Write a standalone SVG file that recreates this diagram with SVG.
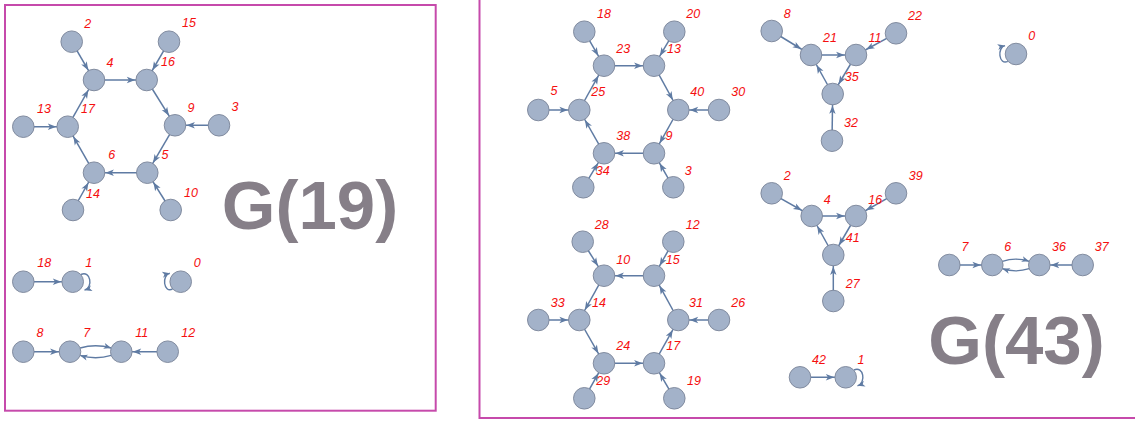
<svg xmlns="http://www.w3.org/2000/svg" width="1135" height="421" viewBox="0 0 1135 421">
<style>
.nd{fill:#a3b2c9;stroke:#7a8598;stroke-width:0.9}
.lb{font-family:"Liberation Sans",Arial,sans-serif;font-style:italic;font-size:12.5px;fill:#f50f0f;text-anchor:middle}
.e{stroke:#5f7ba3;stroke-width:1.5;fill:none}
.ea{stroke:#5f7ba3;stroke-width:1.5;fill:none;marker-end:url(#a)}
.ec{stroke:#5f7ba3;stroke-width:1.4;fill:none;marker-end:url(#a0)}
.ttl{font-family:"Liberation Sans",Arial,sans-serif;font-weight:bold;font-size:69px;fill:#867f88;text-anchor:middle}
.frame{fill:none;stroke:#c64aab;stroke-width:2}
</style>
<defs>
<marker id="a" markerUnits="userSpaceOnUse" orient="auto" viewBox="-10 -5 25 10" markerWidth="25" markerHeight="10" refX="11.4" refY="0"><path d="M0,0 L-8.5,-3.2 L-6.3,0 L-8.5,3.2 Z" fill="#5f7ba3"/></marker>
<marker id="a0" markerUnits="userSpaceOnUse" orient="auto" viewBox="-10 -5 12 10" markerWidth="12" markerHeight="10" refX="0" refY="0"><path d="M0,0 L-7.5,-3 L-5.5,0 L-7.5,3 Z" fill="#5f7ba3"/></marker>
</defs>
<rect width="1135" height="421" fill="#ffffff"/>
<rect class="frame" x="5" y="5" width="430.7" height="405.7"/>
<rect class="frame" x="479.5" y="-10" width="680" height="428"/>
<g id="edges">
<!-- left panel -->
<line class="ea" x1="94" y1="80" x2="146.7" y2="80"/>
<line class="ea" x1="146.7" y1="80" x2="175" y2="125.3"/>
<line class="ea" x1="175" y1="125.3" x2="147.3" y2="172.7"/>
<line class="ea" x1="147.3" y1="172.7" x2="94" y2="172.7"/>
<line class="ea" x1="94" y1="172.7" x2="67.7" y2="126.7"/>
<line class="ea" x1="67.7" y1="126.7" x2="94" y2="80"/>
<line class="ea" x1="71.7" y1="41.7" x2="94" y2="80"/>
<line class="ea" x1="169" y1="41.7" x2="146.7" y2="80"/>
<line class="ea" x1="219" y1="125.3" x2="175" y2="125.3"/>
<line class="ea" x1="170.7" y1="210" x2="147.3" y2="172.7"/>
<line class="ea" x1="73" y1="210" x2="94" y2="172.7"/>
<line class="ea" x1="23.3" y1="126.7" x2="67.7" y2="126.7"/>
<line class="ea" x1="23.3" y1="281.7" x2="72.7" y2="281.7"/>
<path class="ec" d="M81,274.5 C90.5,270 93.5,287.5 84.5,290.2"/>
<path class="ec" d="M172.5,289 C163.5,293.5 161.5,275 169.8,273.3"/>
<line class="ea" x1="23.3" y1="351.7" x2="70" y2="351.7"/>
<path class="ec" d="M80.1,348 Q95.6,343.5 111.2,348"/>
<path class="ec" d="M111.2,355.4 Q95.6,360 80.1,355.4"/>
<line class="ea" x1="167.7" y1="351.7" x2="121.3" y2="351.7"/>
<!-- right panel: upper hexagon -->
<line class="ea" x1="604" y1="65.7" x2="654" y2="65.7"/>
<line class="ea" x1="654" y1="65.7" x2="678.3" y2="110"/>
<line class="ea" x1="678.3" y1="110" x2="654" y2="153.3"/>
<line class="ea" x1="654" y1="153.3" x2="604" y2="153.3"/>
<line class="ea" x1="604" y1="153.3" x2="579.3" y2="110"/>
<line class="ea" x1="579.3" y1="110" x2="604" y2="65.7"/>
<line class="ea" x1="584.3" y1="31.7" x2="604" y2="65.7"/>
<line class="ea" x1="674.3" y1="31.7" x2="654" y2="65.7"/>
<line class="ea" x1="719" y1="110" x2="678.3" y2="110"/>
<line class="ea" x1="673.3" y1="187.3" x2="654" y2="153.3"/>
<line class="ea" x1="583.3" y1="187.3" x2="604" y2="153.3"/>
<line class="ea" x1="538.3" y1="110" x2="579.3" y2="110"/>
<!-- lower hexagon -->
<line class="ea" x1="654" y1="275.7" x2="604" y2="275.7"/>
<line class="ea" x1="604" y1="275.7" x2="579.3" y2="320"/>
<line class="ea" x1="579.3" y1="320" x2="604" y2="363.3"/>
<line class="ea" x1="604" y1="363.3" x2="654" y2="363.3"/>
<line class="ea" x1="654" y1="363.3" x2="678.3" y2="320"/>
<line class="ea" x1="678.3" y1="320" x2="654" y2="275.7"/>
<line class="ea" x1="582.7" y1="241.7" x2="604" y2="275.7"/>
<line class="ea" x1="673.3" y1="241.7" x2="654" y2="275.7"/>
<line class="ea" x1="538.3" y1="320" x2="579.3" y2="320"/>
<line class="ea" x1="719" y1="320" x2="678.3" y2="320"/>
<line class="ea" x1="584.3" y1="398.3" x2="604" y2="363.3"/>
<line class="ea" x1="674.3" y1="398.3" x2="654" y2="363.3"/>
<!-- triangles -->
<line class="ea" x1="811" y1="55" x2="856" y2="55"/>
<line class="ea" x1="856" y1="55" x2="832.7" y2="94"/>
<line class="ea" x1="832.7" y1="94" x2="811" y2="55"/>
<line class="ea" x1="771.7" y1="31" x2="811" y2="55"/>
<line class="ea" x1="896" y1="33.3" x2="856" y2="55"/>
<line class="ea" x1="832" y1="140.7" x2="832.7" y2="94"/>
<line class="ea" x1="811.7" y1="216" x2="856" y2="216"/>
<line class="ea" x1="856" y1="216" x2="833.3" y2="255"/>
<line class="ea" x1="833.3" y1="255" x2="811.7" y2="216"/>
<line class="ea" x1="771.7" y1="193.3" x2="811.7" y2="216"/>
<line class="ea" x1="896" y1="193.3" x2="856" y2="216"/>
<line class="ea" x1="833.3" y1="301" x2="833.3" y2="255"/>
<!-- small components -->
<line class="ea" x1="800" y1="377.3" x2="845.7" y2="377.3"/>
<path class="ec" d="M854,370 C863.5,365.5 866.5,383 857.5,385.8"/>
<path class="ec" d="M1007.8,61.3 C998.8,65.8 996.8,47.3 1005.1,45.6"/>
<line class="ea" x1="949.3" y1="265" x2="992.3" y2="265"/>
<path class="ec" d="M1002.4,261.3 Q1015.8,257 1029.2,261.3"/>
<path class="ec" d="M1029.2,268.7 Q1015.8,273 1002.4,268.7"/>
<line class="ea" x1="1082.7" y1="265" x2="1039.3" y2="265"/>
</g>
<!-- left panel nodes -->
<g id="L2"><circle class="nd" cx="71.7" cy="41.7" r="10.8"/><text class="lb" x="87.7" y="27.5">2</text></g>
<g id="L15"><circle class="nd" cx="169" cy="41.7" r="10.8"/><text class="lb" x="189" y="26.5">15</text></g>
<g id="L4"><circle class="nd" cx="94" cy="80" r="10.8"/><text class="lb" x="110" y="66.5">4</text></g>
<g id="L16"><circle class="nd" cx="146.7" cy="80" r="10.8"/><text class="lb" x="168" y="65.5">16</text></g>
<g id="L13"><circle class="nd" cx="23.3" cy="126.7" r="10.8"/><text class="lb" x="44" y="112.5">13</text></g>
<g id="L17"><circle class="nd" cx="67.7" cy="126.7" r="10.8"/><text class="lb" x="88" y="112.5">17</text></g>
<g id="L9"><circle class="nd" cx="175" cy="125.3" r="10.8"/><text class="lb" x="191" y="111.5">9</text></g>
<g id="L3"><circle class="nd" cx="219" cy="125.3" r="10.8"/><text class="lb" x="235" y="110.5">3</text></g>
<g id="L6"><circle class="nd" cx="94" cy="172.7" r="10.8"/><text class="lb" x="111.7" y="158.5">6</text></g>
<g id="L5"><circle class="nd" cx="147.3" cy="172.7" r="10.8"/><text class="lb" x="165" y="158.5">5</text></g>
<g id="L14"><circle class="nd" cx="73" cy="210" r="10.8"/><text class="lb" x="93" y="197.5">14</text></g>
<g id="L10"><circle class="nd" cx="170.7" cy="210" r="10.8"/><text class="lb" x="191" y="196.5">10</text></g>
<g id="L18"><circle class="nd" cx="23.3" cy="281.7" r="10.8"/><text class="lb" x="44.3" y="266.8">18</text></g>
<g id="L1"><circle class="nd" cx="72.7" cy="281.7" r="10.8"/><text class="lb" x="88.7" y="266.5">1</text></g>
<g id="L0"><circle class="nd" cx="180.7" cy="281.7" r="10.8"/><text class="lb" x="197.3" y="266.5">0</text></g>
<g id="L8"><circle class="nd" cx="23.3" cy="351.7" r="10.8"/><text class="lb" x="40" y="337.2">8</text></g>
<g id="L7"><circle class="nd" cx="70" cy="351.7" r="10.8"/><text class="lb" x="86.7" y="337.2">7</text></g>
<g id="L11"><circle class="nd" cx="121.3" cy="351.7" r="10.8"/><text class="lb" x="141.7" y="337.2">11</text></g>
<g id="L12"><circle class="nd" cx="167.7" cy="351.7" r="10.8"/><text class="lb" x="188.3" y="337.2">12</text></g>
<text id="title19" class="ttl" x="310" y="228.5">G(19)</text>
<!-- right panel nodes -->
<g id="R18"><circle class="nd" cx="584.3" cy="31.7" r="10.8"/><text class="lb" x="604" y="17.8">18</text></g>
<g id="R20"><circle class="nd" cx="674.3" cy="31.7" r="10.8"/><text class="lb" x="693.3" y="17.8">20</text></g>
<g id="R23"><circle class="nd" cx="604" cy="65.7" r="10.8"/><text class="lb" x="623.3" y="53.2">23</text></g>
<g id="R13"><circle class="nd" cx="654" cy="65.7" r="10.8"/><text class="lb" x="674" y="53.2">13</text></g>
<g id="R5"><circle class="nd" cx="538.3" cy="110" r="10.8"/><text class="lb" x="554" y="95.2">5</text></g>
<g id="R25"><circle class="nd" cx="579.3" cy="110" r="10.8"/><text class="lb" x="598.3" y="96.2">25</text></g>
<g id="R40"><circle class="nd" cx="678.3" cy="110" r="10.8"/><text class="lb" x="697.3" y="96.2">40</text></g>
<g id="R30"><circle class="nd" cx="719" cy="110" r="10.8"/><text class="lb" x="738.3" y="96.2">30</text></g>
<g id="R38"><circle class="nd" cx="604" cy="153.3" r="10.8"/><text class="lb" x="623.3" y="139.5">38</text></g>
<g id="R9"><circle class="nd" cx="654" cy="153.3" r="10.8"/><text class="lb" x="669" y="139.5">9</text></g>
<g id="R34"><circle class="nd" cx="583.3" cy="187.3" r="10.8"/><text class="lb" x="602.7" y="174.5">34</text></g>
<g id="R3"><circle class="nd" cx="673.3" cy="187.3" r="10.8"/><text class="lb" x="688.3" y="174.5">3</text></g>
<g id="R28"><circle class="nd" cx="582.7" cy="241.7" r="10.8"/><text class="lb" x="601.7" y="228.5">28</text></g>
<g id="R12"><circle class="nd" cx="673.3" cy="241.7" r="10.8"/><text class="lb" x="692.7" y="228.5">12</text></g>
<g id="R10"><circle class="nd" cx="604" cy="275.7" r="10.8"/><text class="lb" x="623.3" y="263.5">10</text></g>
<g id="R15"><circle class="nd" cx="654" cy="275.7" r="10.8"/><text class="lb" x="672.7" y="263.5">15</text></g>
<g id="R33"><circle class="nd" cx="538.3" cy="320" r="10.8"/><text class="lb" x="557.7" y="306.8">33</text></g>
<g id="R14"><circle class="nd" cx="579.3" cy="320" r="10.8"/><text class="lb" x="599" y="306.8">14</text></g>
<g id="R31"><circle class="nd" cx="678.3" cy="320" r="10.8"/><text class="lb" x="696" y="306.8">31</text></g>
<g id="R26"><circle class="nd" cx="719" cy="320" r="10.8"/><text class="lb" x="738.3" y="306.8">26</text></g>
<g id="R24"><circle class="nd" cx="604" cy="363.3" r="10.8"/><text class="lb" x="623.3" y="350.2">24</text></g>
<g id="R17"><circle class="nd" cx="654" cy="363.3" r="10.8"/><text class="lb" x="673.3" y="350.2">17</text></g>
<g id="R29"><circle class="nd" cx="584.3" cy="398.3" r="10.8"/><text class="lb" x="603.3" y="384.5">29</text></g>
<g id="R19"><circle class="nd" cx="674.3" cy="398.3" r="10.8"/><text class="lb" x="694" y="384.5">19</text></g>
<g id="R8"><circle class="nd" cx="771.7" cy="31" r="10.8"/><text class="lb" x="787.3" y="17.8">8</text></g>
<g id="R21"><circle class="nd" cx="811" cy="55" r="10.8"/><text class="lb" x="830" y="41.8">21</text></g>
<g id="R11"><circle class="nd" cx="856" cy="55" r="10.8"/><text class="lb" x="875" y="41.8">11</text></g>
<g id="R22"><circle class="nd" cx="896" cy="33.3" r="10.8"/><text class="lb" x="915" y="20.2">22</text></g>
<g id="R35"><circle class="nd" cx="832.7" cy="94" r="10.8"/><text class="lb" x="851.7" y="80.5">35</text></g>
<g id="R32"><circle class="nd" cx="832" cy="140.7" r="10.8"/><text class="lb" x="851" y="127.2">32</text></g>
<g id="R2"><circle class="nd" cx="771.7" cy="193.3" r="10.8"/><text class="lb" x="787.3" y="180.2">2</text></g>
<g id="R4"><circle class="nd" cx="811.7" cy="216" r="10.8"/><text class="lb" x="827.3" y="203.5">4</text></g>
<g id="R16"><circle class="nd" cx="856" cy="216" r="10.8"/><text class="lb" x="875.3" y="203.5">16</text></g>
<g id="R39"><circle class="nd" cx="896" cy="193.3" r="10.8"/><text class="lb" x="915.7" y="180.2">39</text></g>
<g id="R41"><circle class="nd" cx="833.3" cy="255" r="10.8"/><text class="lb" x="852.7" y="241.8">41</text></g>
<g id="R27"><circle class="nd" cx="833.3" cy="301" r="10.8"/><text class="lb" x="852.7" y="287.8">27</text></g>
<g id="R42"><circle class="nd" cx="800" cy="377.3" r="10.8"/><text class="lb" x="819" y="363.8">42</text></g>
<g id="R1"><circle class="nd" cx="845.7" cy="377.3" r="10.8"/><text class="lb" x="861" y="363.8">1</text></g>
<g id="R0"><circle class="nd" cx="1016" cy="54" r="10.8"/><text class="lb" x="1031.7" y="39.5">0</text></g>
<g id="R7"><circle class="nd" cx="949.3" cy="265" r="10.8"/><text class="lb" x="965" y="251.2">7</text></g>
<g id="R6"><circle class="nd" cx="992.3" cy="265" r="10.8"/><text class="lb" x="1007.7" y="251.2">6</text></g>
<g id="R36"><circle class="nd" cx="1039.3" cy="265" r="10.8"/><text class="lb" x="1059" y="251.2">36</text></g>
<g id="R37"><circle class="nd" cx="1082.7" cy="265" r="10.8"/><text class="lb" x="1101.7" y="251.2">37</text></g>
<text id="title43" class="ttl" x="1016.5" y="363.5">G(43)</text>
</svg>
